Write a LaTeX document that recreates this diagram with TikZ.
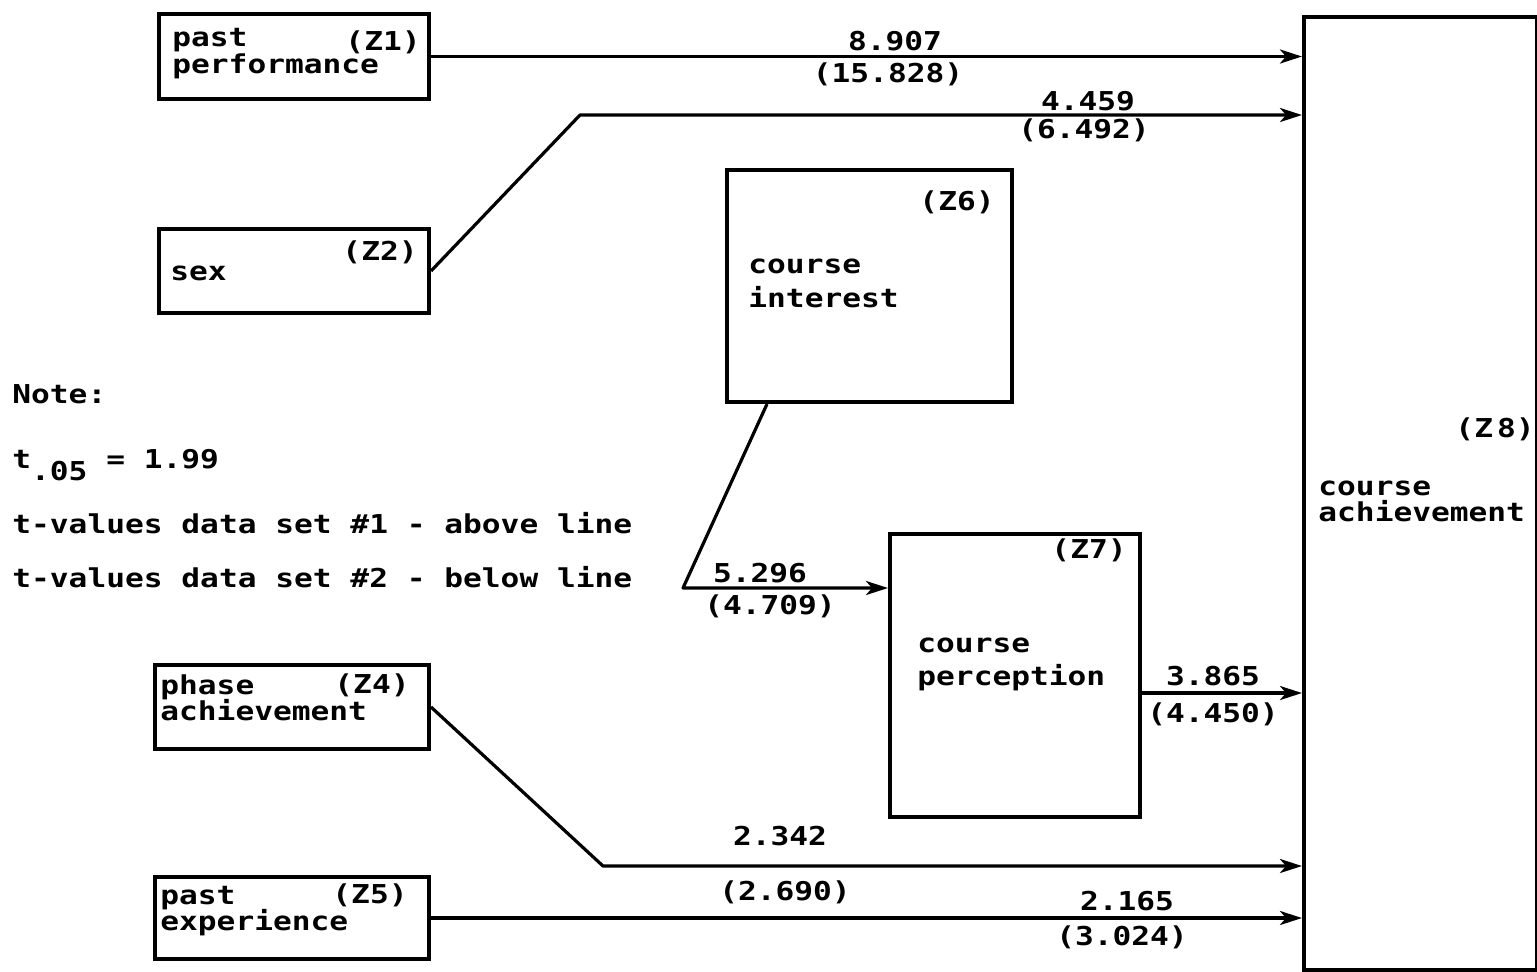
\documentclass[tikz,border=0pt]{standalone}
\usepackage{fontspec}
\usetikzlibrary{arrows.meta,calc}
\newfontfamily\boxfont[FakeStretch=1.2]{DejaVu Sans Mono Bold}
\begin{document}
\begin{tikzpicture}[x=0.5pt,y=-0.5pt,
  boxst/.style={draw, line width=2pt, anchor=north west, inner sep=0pt},
  lbl/.style={font=\boxfont\fontsize{13}{13}\selectfont, inner sep=0pt, anchor=base west},
  zlbl/.style={lbl, anchor=base east},
  num/.style={lbl, anchor=base},
  note/.style={lbl},
  conn/.style={line width=1.6pt, line join=round, -{Stealth[length=11pt,width=7pt,inset=3pt]}}
]
\useasboundingbox (0,0) rectangle (1537,971);

% boxes
\node[boxst, minimum width=135pt, minimum height=42.5pt] (z1) at (157,12) {};
\node[boxst, minimum width=135pt, minimum height=42pt] (z2) at (157,227) {};
\node[boxst, minimum width=142.5pt, minimum height=116pt] (z6) at (725,168) {};
\node[boxst, minimum width=125pt, minimum height=141.5pt] (z7) at (888,532) {};
\node[boxst, minimum width=137pt, minimum height=42pt] (z4) at (153,663) {};
\node[boxst, minimum width=137pt, minimum height=41pt] (z5) at (153,875) {};
\node[boxst, minimum width=116.5pt, minimum height=476.5pt] (z8) at (1302,15) {};

% box texts
\node[lbl] (t1a) at (172,46) {past};
\node[lbl] (t1b) at (172,73) {performance};
\node[zlbl] (t1z) at (421,50) {(Z1)};
\node[lbl] (t2a) at (170,280) {sex};
\node[zlbl] (t2z) at (418,260) {(Z2)};
\node[zlbl] (t6z) at (995,210) {(Z6)};
\node[lbl] (t6a) at (748,273) {course};
\node[lbl] (t6b) at (748,307) {interest};
\node[zlbl] (t7z) at (1127,558) {(Z7)};
\node[lbl] (t7a) at (917,652) {course};
\node[lbl] (t7b) at (917,685) {perception};
\node[lbl] (t4a) at (160,694) {phase};
\node[lbl] (t4b) at (160,720) {achievement};
\node[zlbl] (t4z) at (410,693) {(Z4)};
\node[lbl] (t5a) at (160,904) {past};
\node[lbl] (t5b) at (160,930) {experience};
\node[zlbl] (t5z) at (408,903) {(Z5)};
\node[zlbl] (t8z) at (1535,437) {(Z\kern2pt 8)};
\node[lbl] (t8a) at (1318,495) {course};
\node[lbl] (t8b) at (1318,521) {achievement};

% note
\node[note] (n0) at (12,403) {Note:};
\node[note] (n1) at (12,468) {t\raisebox{-6pt}{.05} = 1.99};
\node[note] (n2) at (12,533) {t-values data set \#1 - above line};
\node[note] (n3) at (12,587) {t-values data set \#2 - below line};

% connectors
\coordinate (k2) at (580,115);
\coordinate (k6) at (683,588);
\coordinate (k7) at (1138,693);
\coordinate (k4) at (603,866);
\draw[conn] (z1.east) -- (z1.east -| z8.west);
\draw[conn] (z2.east) -- (k2) -- (k2 -| z8.west);
\draw[conn] ($(z6.south west)+(42,0)$) -- (k6) -- (k6 -| z7.west);
\draw[conn] (z7.east |- k7) -- (k7 -| z8.west);
\draw[conn] (z4.east) -- (k4) -- (k4 -| z8.west);
\draw[conn] (z5.east) -- (z5.east -| z8.west);

% values
\node[num] (v1a) at (895,50) {8.907};
\node[num] (v1b) at (888,82) {(15.828)};
\node[num] (v2a) at (1088,110) {4.459};
\node[num] (v2b) at (1084,138) {(6.492)};
\node[num] (v6a) at (760,582) {5.296};
\node[num] (v6b) at (770,614) {(4.709)};
\node[num] (v7a) at (1213,685) {3.865};
\node[num] (v7b) at (1213,722) {(4.450)};
\node[num] (v4a) at (780,845) {2.342};
\node[num] (v4b) at (785,900) {(2.690)};
\node[num] (v5a) at (1127,910) {2.165};
\node[num] (v5b) at (1122,945) {(3.024)};
\end{tikzpicture}
\end{document}
